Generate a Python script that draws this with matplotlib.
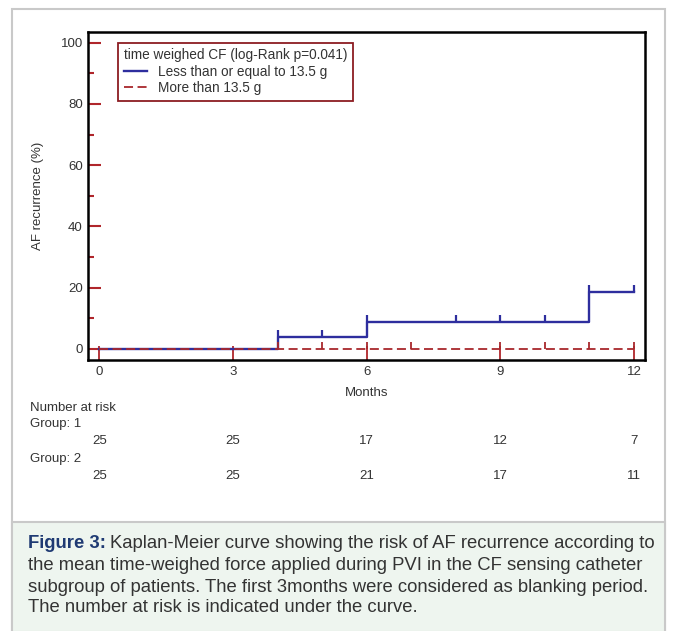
import matplotlib
matplotlib.use("Agg")
import matplotlib.pyplot as plt
from matplotlib.patches import Rectangle

plt.rcParams['font.family'] = ['Liberation Sans Narrow', 'Liberation Sans', 'DejaVu Sans']

# Kaplan-Meier curves (percent with AF recurrence)
g1_times = [0, 4, 6, 11, 12]
g1_values = [0, 3.9, 8.8, 18.5, 18.5]
g1_censor = [4, 5, 6, 8, 9, 10, 11, 12]
g2_times = [0, 12]
g2_values = [0, 0]
g2_censor = [4, 5, 6, 7, 9, 10, 11, 12]

risk_times = [0, 3, 6, 9, 12]
risk_g1 = [25, 25, 17, 12, 7]
risk_g2 = [25, 25, 21, 17, 11]

legend_title = "time weighed CF (log-Rank p=0.041)"
label_g1 = "Less than or equal to 13.5 g"
label_g2 = "More than 13.5 g"

caption = ["Kaplan-Meier curve showing the risk of AF recurrence according to",
           "the mean time-weighed force applied during PVI in the CF sensing catheter",
           "subgroup of patients. The first 3months were considered as blanking period.",
           "The number at risk is indicated under the curve."]

W, H = 675, 631
blue = '#2e2e9e'
red = '#a8282c'
tick_red = '#b0262b'
txt = '#333333'
fs = 9.5

fig = plt.figure(figsize=(W / 100, H / 100), dpi=100)

def fx(px):
    return px / W

def fy(py):
    return 1 - py / H

# outer frame and caption box
fig.patches.append(Rectangle((fx(12), fy(630)), fx(665) - fx(12), fy(9) - fy(630),
                             transform=fig.transFigure, fill=False, ec='#c9c9c9', lw=1.5))
fig.patches.append(Rectangle((fx(12), fy(632)), fx(665) - fx(12), fy(522) - fy(632),
                             transform=fig.transFigure, fc='#eef5ef', ec='#c9c9c9', lw=1.5))

ax = fig.add_axes([fx(88.3), fy(359.5), fx(645) - fx(88.3), fy(31.7) - fy(359.5)])
ax.set_xlim(-0.247, 12.247)
ax.set_ylim(-3.5, 103.6)

ax.step(g1_times, g1_values, where='post', color=blue, lw=1.7, label=label_g1, zorder=3)
ax.step(g2_times, g2_values, where='post', color=red, lw=1.3, ls=(0, (5, 2.5)),
        label=label_g2, zorder=4)

# censor marks
def val_at(times, vals, t):
    v = vals[0]
    for ti, vi in zip(times, vals):
        if ti <= t:
            v = vi
    return v

for t in g1_censor:
    v = val_at(g1_times, g1_values, t)
    ax.vlines(t, v, v + 2.2, color=blue, lw=1.6, zorder=3)
for t in g2_censor:
    v = val_at(g2_times, g2_values, t)
    ax.vlines(t, v, v + 2.2, color=red, lw=1.3, zorder=4)

ax.set_xticks(risk_times)
ax.set_yticks([0, 20, 40, 60, 80, 100])
ax.set_yticks([10, 30, 50, 70, 90], minor=True)
ax.tick_params(axis='both', which='both', direction='in', colors=tick_red,
               labelcolor=txt, labelsize=fs)
ax.tick_params(axis='x', length=10, width=1.3, pad=5)
ax.tick_params(axis='y', which='major', length=9, width=1.5, pad=4)
ax.tick_params(axis='y', which='minor', length=4, width=1.5)
for s in ax.spines.values():
    s.set_color('black')
    s.set_linewidth(1.8)

ax.set_xlabel("Months", fontsize=fs, color=txt, labelpad=6)
ax.set_ylabel("AF recurrence (%)", fontsize=fs, color=txt, labelpad=12)

leg = ax.legend(title=legend_title, loc='upper left', bbox_to_anchor=(0.053, 0.967),
                fancybox=False, edgecolor='#8c1c22', fontsize=9.8, title_fontsize=9.8,
                handlelength=1.75, handletextpad=0.8, borderpad=0.42, labelspacing=0.18,
                alignment='left', framealpha=1, borderaxespad=0)
leg.get_frame().set_linewidth(1.3)
for t in leg.get_texts():
    t.set_color(txt)
leg.get_title().set_color(txt)

# number at risk table
fig.text(fx(30), fy(408), "Number at risk", fontsize=fs, color=txt, va='center')
fig.text(fx(30), fy(424), "Group: 1", fontsize=fs, color=txt, va='center')
fig.text(fx(30), fy(459), "Group: 2", fontsize=fs, color=txt, va='center')
for t, n1, n2 in zip(risk_times, risk_g1, risk_g2):
    x = ax.transData.transform((t, 0))[0] / W
    fig.text(x, fy(441.5), str(n1), fontsize=fs, color=txt, ha='center', va='center')
    fig.text(x, fy(476), str(n2), fontsize=fs, color=txt, ha='center', va='center')

# caption
renderer = fig.canvas.get_renderer()
cap_y = [544, 566, 587, 608]
cfs = 13.3
head = fig.text(fx(28), fy(cap_y[0]), "Figure 3:", fontsize=cfs, fontweight='bold',
                color='#1f3a73', va='center', family='Liberation Sans')
bb = head.get_window_extent(renderer)
fig.text(bb.x1 / W + fx(4), fy(cap_y[0]), caption[0], fontsize=cfs, color='#333333',
         va='center', family='Liberation Sans')
for line, y in zip(caption[1:], cap_y[1:]):
    fig.text(fx(28), fy(y), line, fontsize=cfs, color='#333333', va='center',
             family='Liberation Sans')

fig.savefig("out.png", dpi=100)
